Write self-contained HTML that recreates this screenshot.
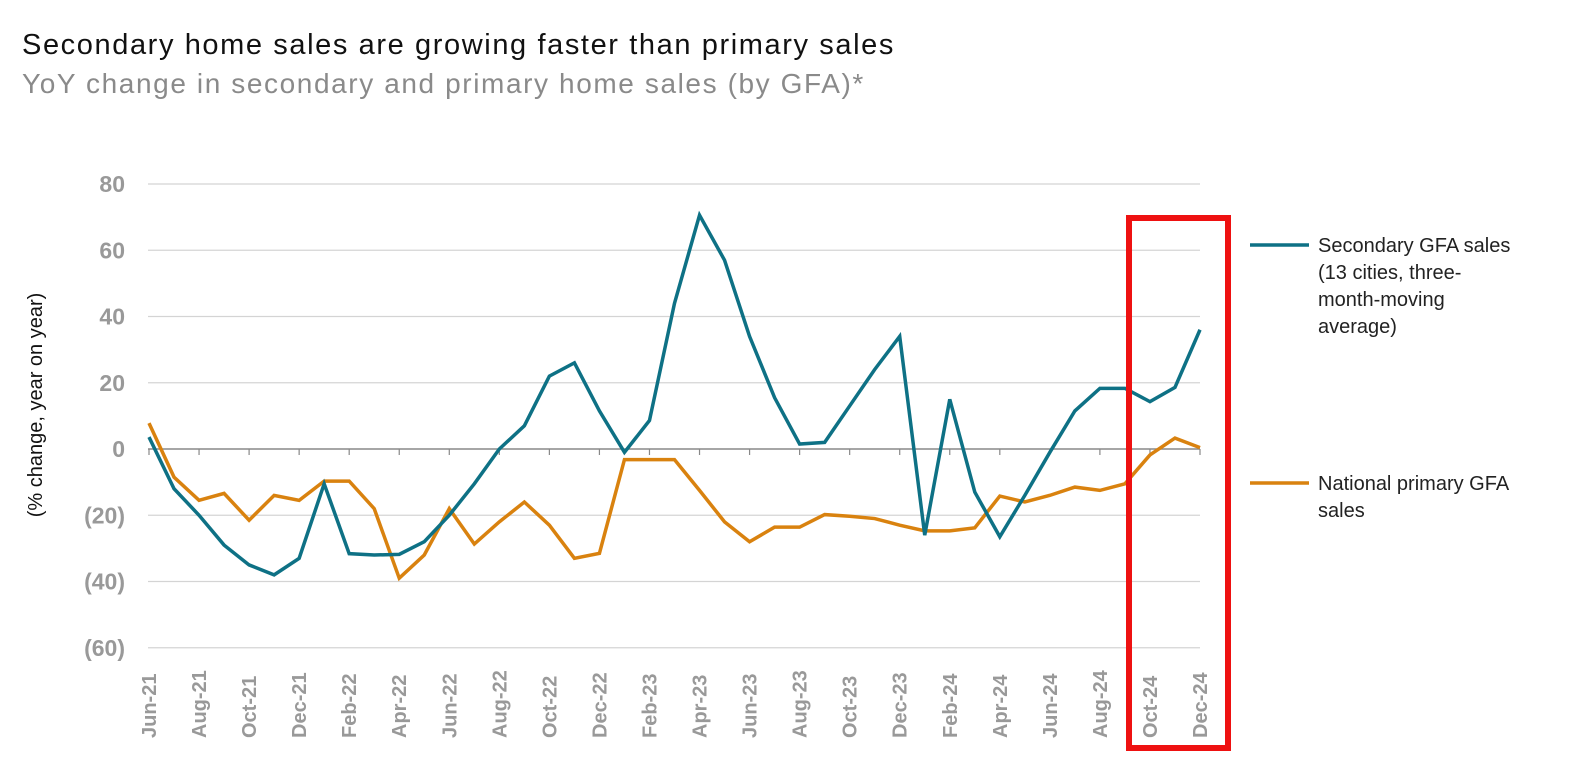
<!DOCTYPE html>
<html><head><meta charset="utf-8"><style>
body{margin:0;background:#fff;width:1571px;height:780px;overflow:hidden;font-family:"Liberation Sans",sans-serif}
#title{position:absolute;left:22px;top:29px;font-size:29px;color:#111;letter-spacing:1.6px;white-space:nowrap}
#sub{position:absolute;left:22px;top:68px;font-size:28px;color:#8a8a8a;font-weight:300;letter-spacing:1.6px;white-space:nowrap}
svg{position:absolute;left:0;top:0}
</style></head><body>
<div id="title">Secondary home sales are growing faster than primary sales</div>
<div id="sub">YoY change in secondary and primary home sales (by GFA)*</div>
<svg id="chart" width="1571" height="780"></svg>
<script>
const months=["Jun-21","Jul-21","Aug-21","Sep-21","Oct-21","Nov-21","Dec-21","Jan-22","Feb-22","Mar-22","Apr-22","May-22","Jun-22","Jul-22","Aug-22","Sep-22","Oct-22","Nov-22","Dec-22","Jan-23","Feb-23","Mar-23","Apr-23","May-23","Jun-23","Jul-23","Aug-23","Sep-23","Oct-23","Nov-23","Dec-23","Jan-24","Feb-24","Mar-24","Apr-24","May-24","Jun-24","Jul-24","Aug-24","Sep-24","Oct-24","Nov-24","Dec-24"];
const secondary=[3.6,-12,-20,-29,-35,-38,-33,-10.5,-31.6,-32,-31.8,-28,-20,-10.5,0,7,22,26,11.5,-1,8.6,44,70.6,57,34,15.5,1.5,2,13,24,34,-26,15,-13,-26.5,-14,-1,11.5,18.3,18.3,14.3,18.6,36];
const primary=[7.8,-8.5,-15.5,-13.4,-21.5,-14,-15.5,-9.7,-9.7,-18,-39,-32,-18,-28.7,-22,-16,-23,-33,-31.5,-3.2,-3.2,-3.2,-12.5,-22,-28,-23.6,-23.6,-19.8,-20.3,-21,-23,-24.7,-24.7,-23.8,-14.2,-16,-14,-11.5,-12.5,-10.5,-1.8,3.3,0.4];
const yTicks=[80,60,40,20,0,-20,-40,-60];
const yTickLabels=["80","60","40","20","0","(20)","(40)","(60)"];
const NS="http://www.w3.org/2000/svg";
const svg=document.getElementById('chart');
const x0=149,x1=1200,y80=184,y0=449;
const xs=i=>x0+(x1-x0)*i/(months.length-1);
const ys=v=>y0-(v)*(y0-y80)/80;
function mk(t,a){const e=document.createElementNS(NS,t);for(const k in a)e.setAttribute(k,a[k]);svg.appendChild(e);return e;}
yTicks.forEach((v,i)=>{
  if(v!==0){const g=mk('line',{x1:148,x2:1200,y1:ys(v),y2:ys(v),stroke:'#d4d4d4','stroke-width':1.3});
  
  }
  const t=mk('text',{x:125,y:ys(v)+8,'text-anchor':'end','font-size':23,'font-weight':'bold',fill:'#999'});
  t.textContent=yTickLabels[i];
  
  
});
const ax=mk('line',{x1:148,x2:1200,y1:y0,y2:y0,stroke:'#888','stroke-width':1.5});


months.forEach((m,i)=>{
  if(i%2===0){
    const tk=mk('line',{x1:xs(i),x2:xs(i),y1:y0,y2:y0+6,stroke:'#888','stroke-width':1.2});
    
    
    const t=mk('text',{x:0,y:0,transform:`translate(${xs(i)+7},738) rotate(-90)`,'font-size':20,'font-weight':'bold',fill:'#999'});
    t.textContent=m;
    
    
  }
});
function line(vals,col,name){
  const p=mk('polyline',{points:vals.map((v,i)=>xs(i)+','+ys(v)).join(' '),fill:'none',stroke:col,'stroke-width':3.5,'stroke-linejoin':'miter'});
  
  
}
line(primary,'#D9820F','primary-series-line');
line(secondary,'#0E7185','secondary-series-line');
const yt=mk('text',{x:0,y:0,transform:'translate(42,405) rotate(-90)','text-anchor':'middle','font-size':20,fill:'#111'});
yt.textContent='(% change, year on year)';


const rr=mk('rect',{x:1129,y:218,width:99,height:530,fill:'none',stroke:'#EE1111','stroke-width':6});


function legend(yl,col,lines,name){
  const l=mk('line',{x1:1250,x2:1309,y1:yl,y2:yl,stroke:col,'stroke-width':3.5});
  
  
  const t=mk('text',{x:1318,y:yl+7,'font-size':20,fill:'#222'});
  
  
  lines.forEach((s,i)=>{const ts=document.createElementNS(NS,'tspan');ts.setAttribute('x',1318);ts.setAttribute('dy',i?27:0);ts.textContent=s;t.appendChild(ts);});
}
legend(245,'#0E7185',['Secondary GFA sales','(13 cities,  three-','month-moving','average)'],'legend-secondary');
legend(483,'#D9820F',['National primary GFA','sales'],'legend-primary');
</script>
</body></html>
